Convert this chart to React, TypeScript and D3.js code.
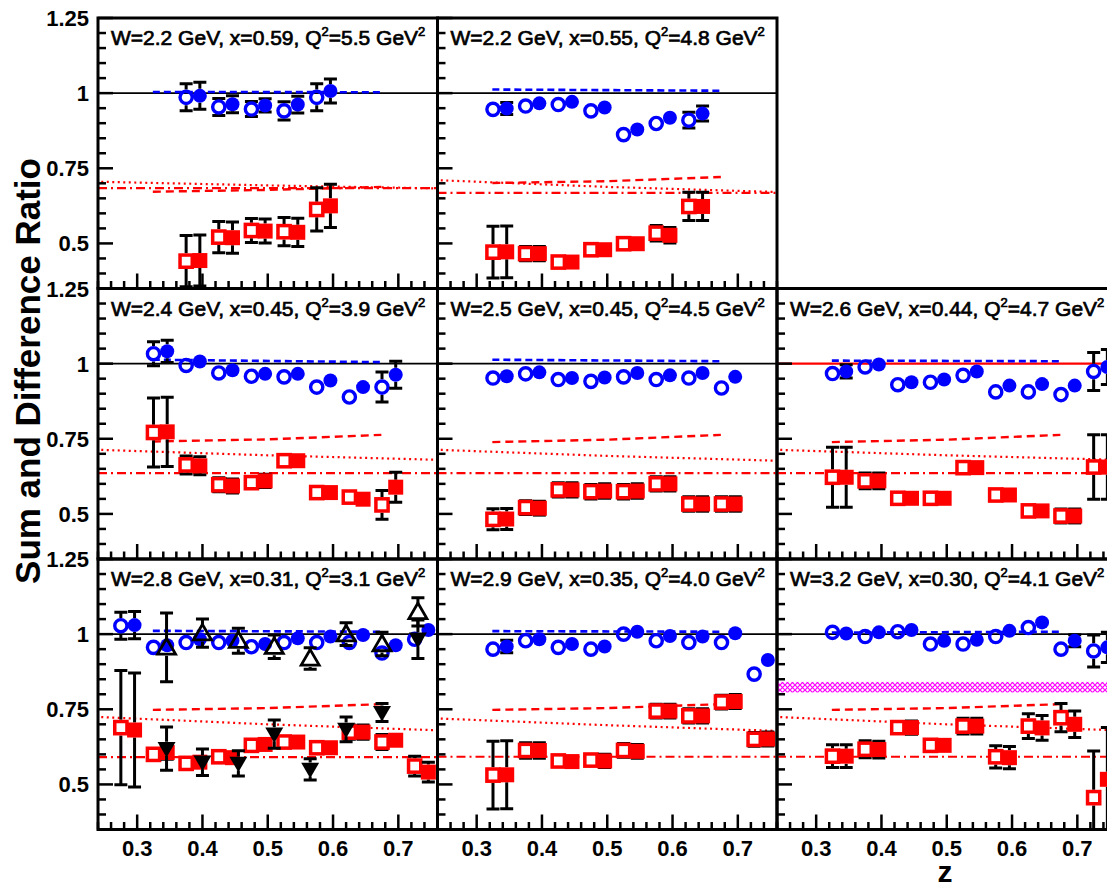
import React, { useEffect, useRef } from 'react';
import * as d3 from 'd3';

const WIDTH = 1107;
const HEIGHT = 886;

// panel grid
const COL_X = [98, 437.5, 777];
const COL_W = 339.5;
const ROW_Y = [18, 288.5, 559];
const ROW_H = 270.5;
const panelRow = [0, 0, 1, 1, 1, 2, 2, 2];
const panelCol = [0, 1, 0, 1, 2, 0, 1, 2];

// kinematics shown in each panel title
const wLabels = ['2.2', '2.2', '2.4', '2.5', '2.6', '2.8', '2.9', '3.2'];
const xLabels = ['0.59', '0.55', '0.45', '0.45', '0.44', '0.31', '0.35', '0.30'];
const q2Labels = ['5.5', '4.8', '3.9', '4.5', '4.7', '3.1', '4.0', '4.1'];

const yTicks = [0.5, 0.75, 1, 1.25];
const yTickLabels = ['0.5', '0.75', '1', '1.25'];
const xTicks = [0.3, 0.4, 0.5, 0.6, 0.7];
const xTickLabels = ['0.3', '0.4', '0.5', '0.6', '0.7'];

// z bins (open markers); filled markers sit slightly to the right
const zBins = [
  [0.375, 0.425, 0.475, 0.525, 0.575],
  [0.325, 0.375, 0.425, 0.475, 0.525, 0.575, 0.625],
  [0.325, 0.375, 0.425, 0.475, 0.525, 0.575, 0.625, 0.675],
  [0.325, 0.375, 0.425, 0.475, 0.525, 0.575, 0.625, 0.675],
  [0.325, 0.375, 0.425, 0.475, 0.525, 0.575, 0.625, 0.675, 0.725],
  [0.275, 0.325, 0.375, 0.425, 0.475, 0.525, 0.575, 0.625, 0.675, 0.725],
  [0.325, 0.375, 0.425, 0.475, 0.525, 0.575, 0.625, 0.675, 0.725],
  [0.325, 0.375, 0.425, 0.475, 0.525, 0.575, 0.625, 0.675, 0.725],
];
const FILLED_SHIFT = 0.021;

// sum ratio (blue)
const sumOpen = [
  [0.986, 0.954, 0.947, 0.941, 0.986],
  [0.946, 0.957, 0.962, 0.941, 0.862, 0.899, 0.91],
  [1.033, 0.994, 0.969, 0.958, 0.956, 0.922, 0.889, 0.922],
  [0.952, 0.966, 0.947, 0.941, 0.956, 0.947, 0.952, 0.919],
  [0.967, 0.989, 0.93, 0.938, 0.961, 0.906, 0.906, 0.897, 0.974],
  [1.028, 0.956, 0.972, 0.972, 0.958, 0.972, 0.972, 0.972, 0.937, 0.983],
  [0.95, 0.978, 0.956, 0.95, 1.0, 0.978, 0.972, 0.972, 0.867],
  [1.006, 0.992, 1.008, 0.967, 0.967, 0.992, 1.022, 0.95, 0.944],
];
const sumOpenErr = [
  [0.045, 0.028, 0.025, 0.03, 0.045],
  [0.02, 0, 0, 0, 0, 0, 0.026],
  [0.04, 0, 0, 0, 0, 0, 0, 0.05],
  [0, 0, 0, 0, 0, 0, 0, 0],
  [0.022, 0, 0, 0, 0, 0, 0, 0.017, 0.063],
  [0.045, 0, 0, 0, 0, 0, 0, 0, 0, 0],
  [0.021, 0, 0, 0, 0, 0, 0, 0, 0],
  [0, 0, 0, 0, 0, 0.019, 0.017, 0.02, 0.053],
];
const sumFilled = [
  [0.991, 0.963, 0.959, 0.962, 1.007],
  [0.949, 0.966, 0.971, 0.952, 0.879, 0.918, 0.932],
  [1.041, 1.007, 0.978, 0.966, 0.966, 0.944, 0.922, 0.963],
  [0.958, 0.971, 0.952, 0.954, 0.969, 0.961, 0.969, 0.956],
  [0.974, 0.997, 0.938, 0.947, 0.974, 0.927, 0.932, 0.927, 0.989],
  [1.03, 0.963, 0.983, 0.978, 0.967, 0.986, 0.992, 0.997, 0.963, 1.014],
  [0.959, 0.983, 0.967, 0.959, 1.008, 0.994, 0.992, 1.003, 0.914],
  [1.002, 1.006, 1.014, 0.978, 0.981, 1.011, 1.039, 0.978, 0.956],
];
const sumFilledErr = [
  [0.045, 0.028, 0.022, 0.028, 0.04],
  [0.02, 0, 0, 0, 0, 0, 0.025],
  [0.037, 0, 0, 0, 0, 0, 0, 0.045],
  [0, 0, 0, 0, 0, 0, 0, 0],
  [0.022, 0, 0, 0, 0, 0, 0, 0.015, 0.058],
  [0.045, 0, 0, 0, 0, 0, 0, 0, 0, 0],
  [0.021, 0, 0, 0, 0, 0, 0, 0, 0],
  [0, 0, 0, 0, 0, 0.019, 0.015, 0.02, 0.05],
];

// difference ratio (red)
const diffOpen = [
  [0.441, 0.521, 0.543, 0.539, 0.613],
  [0.471, 0.466, 0.438, 0.479, 0.499, 0.534, 0.623],
  [0.771, 0.663, 0.597, 0.604, 0.677, 0.571, 0.556, 0.53],
  [0.482, 0.521, 0.58, 0.574, 0.574, 0.6, 0.533, 0.533],
  [0.622, 0.61, 0.552, 0.552, 0.654, 0.563, 0.51, 0.493, 0.656],
  [0.689, 0.6, 0.57, 0.592, 0.63, 0.641, 0.622, 0.674, 0.641, 0.561],
  [0.531, 0.613, 0.578, 0.581, 0.613, 0.744, 0.728, 0.774, 0.65],
  [0.594, 0.617, 0.689, 0.63, 0.694, 0.592, 0.694, 0.722, 0.456],
];
const diffOpenErr = [
  [0.085, 0.052, 0.04, 0.047, 0.072],
  [0.086, 0.024, 0.018, 0.019, 0.017, 0.026, 0.047],
  [0.115, 0.03, 0.023, 0.022, 0.018, 0.017, 0.02, 0.048],
  [0.035, 0.023, 0.024, 0.024, 0.024, 0.024, 0.024, 0.024],
  [0.1, 0.026, 0.018, 0.018, 0.02, 0.019, 0.018, 0.023, 0.107],
  [0.19, 0.022, 0, 0, 0.02, 0.02, 0.02, 0.024, 0.025, 0.033],
  [0.113, 0.026, 0.021, 0.022, 0.023, 0.023, 0.024, 0.023, 0.023],
  [0.038, 0.028, 0.022, 0.02, 0.026, 0.037, 0.041, 0.047, 0.155],
];
const diffFilled = [
  [0.443, 0.519, 0.541, 0.537, 0.625],
  [0.472, 0.466, 0.438, 0.479, 0.499, 0.527, 0.623],
  [0.773, 0.66, 0.593, 0.61, 0.677, 0.571, 0.549, 0.589],
  [0.483, 0.519, 0.58, 0.576, 0.576, 0.6, 0.533, 0.533],
  [0.622, 0.61, 0.552, 0.552, 0.654, 0.563, 0.51, 0.493, 0.656],
  [0.681, 0.606, 0.574, 0.589, 0.633, 0.641, 0.622, 0.674, 0.647, 0.541],
  [0.532, 0.613, 0.576, 0.578, 0.61, 0.744, 0.728, 0.776, 0.651],
  [0.594, 0.616, 0.689, 0.63, 0.694, 0.589, 0.688, 0.7, 0.517],
];
const diffFilledErr = [
  [0.085, 0.052, 0.04, 0.047, 0.072],
  [0.086, 0.024, 0.018, 0.019, 0.017, 0.026, 0.047],
  [0.115, 0.03, 0.023, 0.022, 0.018, 0.017, 0.02, 0.05],
  [0.035, 0.023, 0.024, 0.024, 0.024, 0.024, 0.024, 0.024],
  [0.1, 0.026, 0.018, 0.018, 0.02, 0.019, 0.018, 0.023, 0.107],
  [0.19, 0.022, 0, 0, 0.02, 0.02, 0.02, 0.024, 0.017, 0.033],
  [0.113, 0.026, 0.021, 0.022, 0.023, 0.023, 0.024, 0.023, 0.023],
  [0.038, 0.028, 0.022, 0.02, 0.026, 0.037, 0.041, 0.044, 0.172],
];

// extra black triangles in the W=2.8 panel (index 5)
const triPanel = 5;
const triZ = [0.345, 0.4, 0.455, 0.51, 0.565, 0.62, 0.675, 0.73];
const triUp = [0.956, 1.003, 0.978, 0.958, 0.919, 1.0, 0.967, 1.074];
const triUpErr = [0.114, 0.047, 0.042, 0.039, 0.036, 0.038, 0.039, 0.047];
const triDown = [0.619, 0.574, 0.57, 0.667, 0.55, 0.683, 0.739, 0.983];
const triDownErr = [0.072, 0.044, 0.042, 0.047, 0.035, 0.041, 0.03, 0.064];

// magenta systematic band in the W=3.2 panel (index 7)
const bandPanel = 7;
const bandRange = [0.806, 0.841];

// curves
const blueDashZ = [0.324, 0.674];
const blueDash = [
  [1.004, 1.003], [1.012, 1.008], [1.013, 1.005], [1.013, 1.008],
  [1.01, 1.008], [1.011, 1.008], [1.01, 1.008], [1.005, 1.008],
];
const redDashZ = [0.324, 0.5, 0.674];
const redDash = [
  [0.672, 0.678, 0.688], [0.701, 0.707, 0.721], [0.741, 0.748, 0.763], [0.739, 0.747, 0.763],
  [0.739, 0.747, 0.763], [0.748, 0.754, 0.767], [0.748, 0.754, 0.767], [0.748, 0.754, 0.767],
];
const redDotZ = [0.245, 0.5, 0.76];
const redDot = [
  [0.705, 0.693, 0.683], [0.71, 0.688, 0.671], [0.713, 0.695, 0.68], [0.713, 0.693, 0.677],
  [0.713, 0.695, 0.68], [0.724, 0.7, 0.68], [0.719, 0.697, 0.678], [0.724, 0.7, 0.68],
];
const redDashDotZ = [0.24, 0.76];
const redDashDot = [0.684, 0.668, 0.636, 0.636, 0.636, 0.591, 0.592, 0.592];
const unityColor = ['#000', '#000', '#000', '#000', '#ff0000', '#000', '#000', '#000'];

const BLUE = '#0000ff';
const RED = '#ff0000';
const FONT = '"Liberation Sans", Arial, Helvetica, sans-serif';

const App = () => {
  const ref = useRef<SVGSVGElement>(null);

  useEffect(() => {
    const svg = d3.select(ref.current);
    svg.selectAll('*').remove();

    const defs = svg.append('defs');
    const pat = defs
      .append('pattern')
      .attr('id', 'hatch')
      .attr('patternUnits', 'userSpaceOnUse')
      .attr('width', 5)
      .attr('height', 5);
    pat.append('path').attr('d', 'M0,0 L5,5 M5,0 L0,5').attr('stroke', '#ff00ff').attr('stroke-width', 1.2);

    svg.append('rect').attr('width', WIDTH).attr('height', HEIGHT).attr('fill', '#fff');

    wLabels.forEach((w, p) => {
      const r = panelRow[p];
      const c = panelCol[p];
      const x0 = COL_X[c];
      const y0 = ROW_Y[r];
      const xs = d3.scaleLinear().domain([0.24, 0.76]).range([x0, x0 + COL_W]);
      const ys = d3.scaleLinear().domain([0.35, 1.25]).range([y0 + ROW_H, y0]);

      defs
        .append('clipPath')
        .attr('id', `clip${p}`)
        .append('rect')
        .attr('x', x0)
        .attr('y', y0)
        .attr('width', COL_W)
        .attr('height', ROW_H);

      const g = svg.append('g').attr('clip-path', `url(#clip${p})`);
      const line = d3
        .line<[number, number]>()
        .x((d) => xs(d[0]))
        .y((d) => ys(d[1]));

      if (p === bandPanel) {
        g.append('rect')
          .attr('x', x0)
          .attr('width', COL_W)
          .attr('y', ys(bandRange[1]))
          .attr('height', ys(bandRange[0]) - ys(bandRange[1]))
          .attr('fill', 'url(#hatch)');
      }

      // theory curves
      g.append('path')
        .attr('d', line(redDotZ.map((z, i) => [z, redDot[p][i]] as [number, number])))
        .attr('fill', 'none')
        .attr('stroke', RED)
        .attr('stroke-width', 2.2)
        .attr('stroke-dasharray', '2,3.5');
      g.append('path')
        .attr('d', line(redDashDotZ.map((z) => [z, redDashDot[p]] as [number, number])))
        .attr('fill', 'none')
        .attr('stroke', RED)
        .attr('stroke-width', 2.2)
        .attr('stroke-dasharray', '9,4,2,4');
      g.append('path')
        .attr('d', line(redDashZ.map((z, i) => [z, redDash[p][i]] as [number, number])))
        .attr('fill', 'none')
        .attr('stroke', RED)
        .attr('stroke-width', 2.4)
        .attr('stroke-dasharray', '8,5');
      g.append('line')
        .attr('x1', x0)
        .attr('x2', x0 + COL_W)
        .attr('y1', ys(1))
        .attr('y2', ys(1))
        .attr('stroke', unityColor[p])
        .attr('stroke-width', unityColor[p] === '#000' ? 1.8 : 2.2);
      g.append('path')
        .attr('d', line(blueDashZ.map((z, i) => [z, blueDash[p][i]] as [number, number])))
        .attr('fill', 'none')
        .attr('stroke', BLUE)
        .attr('stroke-width', 2.6)
        .attr('stroke-dasharray', '7,4');

      // error bar that stops at the marker edge
      const errBar = (z: number, v: number, e: number, half: number) => {
        if (!e) return;
        const cx = xs(z);
        const cy = ys(v);
        const top = ys(v + e);
        const bot = ys(v - e);
        if (cy - top < half - 1) return;
        const eg = g.append('g').attr('stroke', '#000').attr('stroke-width', 3);
        if (cy - half > top) eg.append('line').attr('x1', cx).attr('x2', cx).attr('y1', top).attr('y2', cy - half);
        if (cy + half < bot) eg.append('line').attr('x1', cx).attr('x2', cx).attr('y1', cy + half).attr('y2', bot);
        eg.append('line').attr('x1', cx - 6.5).attr('x2', cx + 6.5).attr('y1', top).attr('y2', top);
        eg.append('line').attr('x1', cx - 6.5).attr('x2', cx + 6.5).attr('y1', bot).attr('y2', bot);
      };

      const zs = zBins[p];
      // blue sum ratio
      zs.forEach((z, i) => {
        errBar(z, sumOpen[p][i], sumOpenErr[p][i], 7.8);
        g.append('circle')
          .attr('cx', xs(z))
          .attr('cy', ys(sumOpen[p][i]))
          .attr('r', 6.1)
          .attr('fill', 'none')
          .attr('stroke', BLUE)
          .attr('stroke-width', 3.4);
      });
      zs.forEach((z, i) => {
        const zf = z + FILLED_SHIFT;
        errBar(zf, sumFilled[p][i], sumFilledErr[p][i], 7);
        g.append('circle').attr('cx', xs(zf)).attr('cy', ys(sumFilled[p][i])).attr('r', 7).attr('fill', BLUE);
      });
      // red difference ratio
      zs.forEach((z, i) => {
        errBar(z, diffOpen[p][i], diffOpenErr[p][i], 7.8);
        g.append('rect')
          .attr('x', xs(z) - 6.1)
          .attr('y', ys(diffOpen[p][i]) - 6.1)
          .attr('width', 12.2)
          .attr('height', 12.2)
          .attr('fill', '#fff')
          .attr('stroke', RED)
          .attr('stroke-width', 3.5);
      });
      zs.forEach((z, i) => {
        const zf = z + FILLED_SHIFT;
        errBar(zf, diffFilled[p][i], diffFilledErr[p][i], 7.5);
        g.append('rect')
          .attr('x', xs(zf) - 7.5)
          .attr('y', ys(diffFilled[p][i]) - 7.5)
          .attr('width', 15)
          .attr('height', 15)
          .attr('fill', RED);
      });

      if (p === triPanel) {
        const up = d3.symbol().type(d3.symbolTriangle).size(140);
        triZ.forEach((z, i) => {
          errBar(z, triUp[i], triUpErr[i], 8.5);
          g.append('path')
            .attr('d', up())
            .attr('transform', `translate(${xs(z)},${ys(triUp[i]) + 1.5})`)
            .attr('fill', 'none')
            .attr('stroke', '#000')
            .attr('stroke-width', 2.8);
        });
        triZ.forEach((z, i) => {
          errBar(z, triDown[i], triDownErr[i], 7);
          g.append('path')
            .attr('d', up())
            .attr('transform', `translate(${xs(z)},${ys(triDown[i]) - 1.5}) rotate(180)`)
            .attr('fill', '#000');
        });
      }

      // axes: ticks on left and bottom, pointing inward
      const ax = svg.append('g').attr('stroke', '#000').attr('stroke-width', 2.5);
      d3.range(0.35, 1.2501, 0.05).forEach((v) => {
        const major = yTicks.some((t) => Math.abs(t - v) < 1e-6);
        ax.append('line')
          .attr('x1', x0)
          .attr('x2', x0 + (major ? 15 : 8))
          .attr('y1', ys(v))
          .attr('y2', ys(v));
      });
      d3.range(0.24, 0.7601, 0.02).forEach((z) => {
        const major = xTicks.some((t) => Math.abs(t - z) < 1e-6);
        ax.append('line')
          .attr('x1', xs(z))
          .attr('x2', xs(z))
          .attr('y1', y0 + ROW_H)
          .attr('y2', y0 + ROW_H - (major ? 15 : 7.5));
      });
      svg.append('rect')
        .attr('x', x0)
        .attr('y', y0)
        .attr('width', COL_W)
        .attr('height', ROW_H)
        .attr('fill', 'none')
        .attr('stroke', '#000')
        .attr('stroke-width', 3);

      // panel title
      const t = svg
        .append('text')
        .attr('x', x0 + 13)
        .attr('y', y0 + 27)
        .attr('font-family', FONT)
        .attr('font-size', 21)
        .attr('fill', '#000')
        .attr('stroke', '#000')
        .attr('stroke-width', 0.7);
      t.append('tspan').text(`W=${w} GeV, x=${xLabels[p]}, Q`);
      t.append('tspan').attr('font-size', 13).attr('dy', -9).text('2');
      t.append('tspan').attr('dy', 9).text(`=${q2Labels[p]} GeV`);
      t.append('tspan').attr('font-size', 13).attr('dy', -9).text('2');

      // tick labels
      if (c === 0) {
        yTicks.forEach((v, i) => {
          svg.append('text')
            .attr('x', 89)
            .attr('y', ys(v) + 8)
            .attr('text-anchor', 'end')
            .attr('font-family', FONT)
            .attr('font-weight', 'bold')
            .attr('font-size', 22)
            .text(yTickLabels[i]);
        });
      }
      if (r === 2) {
        xTicks.forEach((z, i) => {
          svg.append('text')
            .attr('x', xs(z))
            .attr('y', 856)
            .attr('text-anchor', 'middle')
            .attr('font-family', FONT)
            .attr('font-weight', 'bold')
            .attr('font-size', 22)
            .text(xTickLabels[i]);
        });
      }
    });

    svg.append('text')
      .attr('transform', 'translate(40,371) rotate(-90)')
      .attr('text-anchor', 'middle')
      .attr('font-family', FONT)
      .attr('font-weight', 'bold')
      .attr('font-size', 35)
      .text('Sum and Difference Ratio');
    svg.append('text')
      .attr('x', 945)
      .attr('y', 882)
      .attr('text-anchor', 'middle')
      .attr('font-family', FONT)
      .attr('font-weight', 'bold')
      .attr('font-size', 30)
      .text('z');
  }, []);

  return (
    <svg
      ref={ref}
      width={WIDTH}
      height={HEIGHT}
      style={{ position: 'absolute', left: 0, top: 0, display: 'block' }}
    />
  );
};

export default App;
